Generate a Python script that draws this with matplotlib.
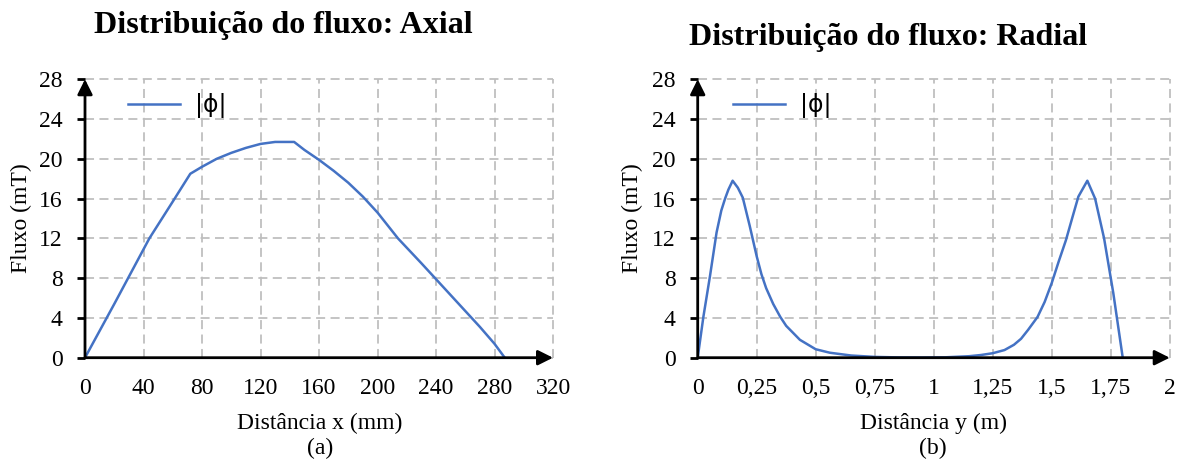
import numpy as np
import matplotlib
matplotlib.use("Agg")
import matplotlib.pyplot as plt

plt.rcParams['font.family'] = ['Liberation Serif', 'DejaVu Serif']

# axial flux distribution (x in mm, flux in mT)
axial_x = [0, 20, 44, 60, 72, 80, 90, 100, 110, 120, 130, 143,
           150, 160, 170, 180, 190, 200, 214, 230, 240, 250, 260, 270, 280, 287]
axial_phi = [0, 5.4, 12.0, 15.7, 18.5, 19.2, 20.0, 20.6, 21.1, 21.5, 21.7, 21.7,
             20.9, 19.9, 18.8, 17.6, 16.2, 14.6, 12.0, 9.5, 7.9, 6.3, 4.7, 3.1,
             1.4, 0]

# radial flux distribution (y in m, flux in mT)
radial_y = [0, 0.024, 0.052, 0.08, 0.1, 0.116, 0.13, 0.148, 0.17, 0.191, 0.22,
            0.25, 0.27, 0.29, 0.32, 0.35, 0.375, 0.4, 0.433, 0.5, 0.56, 0.65,
            0.75, 0.85, 0.95, 1.05, 1.15, 1.2, 1.25, 1.3, 1.34, 1.37, 1.4, 1.44,
            1.47, 1.5, 1.53, 1.56, 1.59, 1.613, 1.651, 1.684, 1.722, 1.761, 1.801]
radial_phi = [0, 4.1, 8.2, 12.6, 14.8, 16.0, 16.9, 17.8, 17.1, 16.1, 13.3,
              10.2, 8.4, 7.0, 5.4, 4.1, 3.2, 2.6, 1.8, 0.85, 0.5, 0.22,
              0.08, 0.03, 0.02, 0.04, 0.15, 0.27, 0.45, 0.77, 1.3, 1.9, 2.8, 4.1,
              5.6, 7.5, 9.7, 11.8, 14.3, 16.2, 17.8, 16.0, 12.0, 6.5, 0]

y_ticks = [0, 4, 8, 12, 16, 20, 24, 28]
axial_ticks = [0, 40, 80, 120, 160, 200, 240, 280, 320]
radial_ticks = [0, 0.25, 0.5, 0.75, 1, 1.25, 1.5, 1.75, 2]
radial_labels = ['0', '0,25', '0,5', '0,75', '1', '1,25', '1,5', '1,75', '2']

W, H = 1182, 461
fig = plt.figure(figsize=(W / 100, H / 100), dpi=100)

def px_axes(x0, x1, y_top, y_bot):
    return fig.add_axes([x0 / W, 1 - y_bot / H, (x1 - x0) / W, (y_bot - y_top) / H])

def px_text(x, y, s, **kw):
    fig.text(x / W, 1 - y / H, s, ha='center', va='center', **kw)

def style(ax, xmax, xticks, xlabels, ylab_x):
    ax.set_xlim(0, xmax)
    ax.set_ylim(0, 28)
    ax.set_xticks(xticks)
    ax.set_xticklabels(xlabels)
    ax.set_yticks(y_ticks)
    ax.tick_params(axis='x', length=0, labelsize=17, pad=14.5)
    ax.tick_params(axis='y', length=5.5, width=2, color='black', labelsize=17, pad=10.5)
    ax.grid(True, color='#bfbfbf', lw=1.3, linestyle=(0, (5, 3)))
    for sp in ax.spines.values():
        sp.set_visible(False)
    for g in ax.get_xgridlines() + ax.get_ygridlines():
        g.set_clip_on(False)
    arrow = dict(arrowstyle='-|>,head_length=0.9,head_width=0.45', lw=2,
                 color='black', shrinkA=0, shrinkB=0)
    ax.annotate('', xy=(1, 0), xytext=(0, 0), xycoords='axes fraction',
                arrowprops=arrow, annotation_clip=False)
    ax.annotate('', xy=(0, 1), xytext=(0, 0), xycoords='axes fraction',
                arrowprops=arrow, annotation_clip=False)
    ax.set_ylabel('Fluxo (mT)', fontsize=17)
    ax.yaxis.set_label_coords(ylab_x, 0.5)

ax1 = px_axes(85, 553, 79.3, 357.7)
ax1.plot(axial_x, axial_phi, color='#4472C4', lw=1.8, label='|ϕ|')
style(ax1, 320, axial_ticks, [str(t) for t in axial_ticks], -0.113)

ax2 = px_axes(697.7, 1169.7, 79.3, 357.7)
ax2.plot(radial_y, radial_phi, color='#4472C4', lw=1.8, label='|ϕ|')
style(ax2, 2, radial_ticks, radial_labels, -0.116)

for ax, lx in ((ax1, 0.092), (ax2, 0.075)):
    ax.legend(loc='upper left', bbox_to_anchor=(lx, 0.95), frameon=False,
              borderpad=0, borderaxespad=0, handlelength=2.2, handletextpad=0.65,
              prop={'family': 'DejaVu Sans', 'size': 17})

px_text(320, 423, 'Distância x (mm)', fontsize=17)
px_text(320, 448, '(a)', fontsize=17)
px_text(933, 423, 'Distância y (m)', fontsize=17)
px_text(933, 448, '(b)', fontsize=17)

px_text(283, 25, 'Distribuição do fluxo: Axial', fontsize=23, fontweight='bold')
px_text(888, 37, 'Distribuição do fluxo: Radial', fontsize=23, fontweight='bold')

fig.savefig('out.png', dpi=100)
